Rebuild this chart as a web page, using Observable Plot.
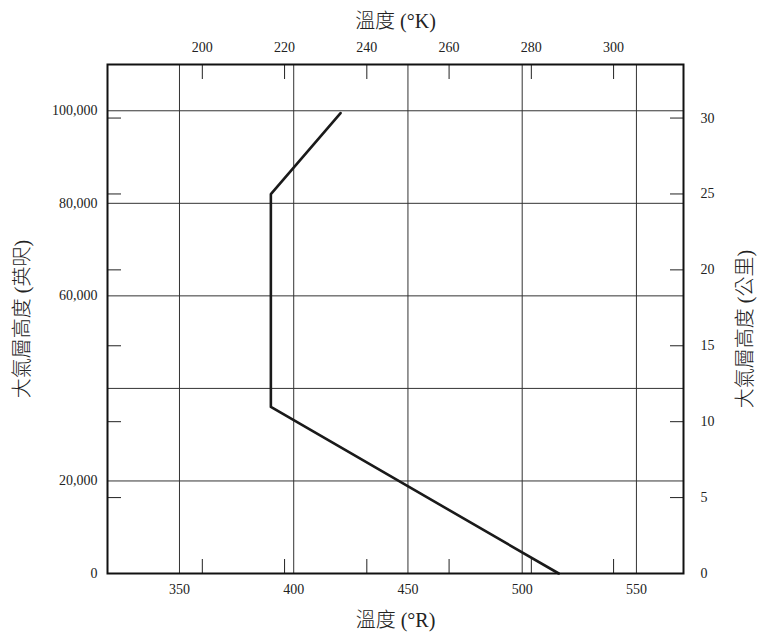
<!DOCTYPE html>
<html>
<head>
<meta charset="utf-8">
<script src="https://cdn.jsdelivr.net/npm/d3@7"></script>
<script src="https://cdn.jsdelivr.net/npm/@observablehq/plot@0.6"></script>
<style>
  html, body { margin: 0; padding: 0; background: #fff; }
</style>
</head>
<body>
<div id="chart"></div>
<script>
// Temperature profile (°R) vs altitude (ft)
const tempR = [516, 390, 390, 420.5];
const altFt = [0, 36000, 82000, 99500];

// Axis ticks
const rTicks = [350, 400, 450, 500, 550];           // bottom, °R
const kTicks = [200, 220, 240, 260, 280, 300];      // top, °K
const ftLabelTicks = [0, 20000, 60000, 80000, 100000]; // left labels, ft
const ftGrid = [20000, 40000, 60000, 80000, 100000];   // horizontal grid, ft
const kmTicks = [0, 5, 10, 15, 20, 25, 30];          // right, km

const titleTop = "溫度 (°K)";
const titleBottom = "溫度 (°R)";
const titleLeft = "大氣層高度 (英呎)";
const titleRight = "大氣層高度 (公里)";

const KtoR = k => k * 1.8;
const kmToFt = km => km * 1000 / 0.3048;

const data = tempR.map((r, i) => ({r, ft: altFt[i]}));

const serif = "'Liberation Serif', 'Noto Sans CJK TC', serif";
const ink = "#222";

const chart = Plot.plot({
  width: 762,
  height: 637,
  marginLeft: 107,
  marginRight: 79,
  marginTop: 64,
  marginBottom: 64,
  style: {fontFamily: serif, fontSize: "14px", color: ink, background: "#fff"},
  x: {domain: [318.5, 570.6]},
  y: {domain: [0, 110000]},
  marks: [
    Plot.ruleX(rTicks, {stroke: "#333", strokeWidth: 1}),
    Plot.ruleY(ftGrid, {stroke: "#333", strokeWidth: 1}),
    // bottom °R labels
    Plot.axisX({anchor: "bottom", ticks: rTicks, tickSize: 0, tickPadding: 11, label: null, fill: ink}),
    // top °K ticks (inward) + labels
    Plot.axisX({anchor: "top", ticks: kTicks.map(KtoR), tickFormat: d => Math.round(d / 1.8), tickSize: -14, tickPadding: 27, label: null, stroke: ink, fill: ink}),
    // bottom °K inward ticks
    Plot.axisX({anchor: "bottom", ticks: kTicks.map(KtoR), tickFormat: () => "", tickSize: -14, label: null, stroke: ink}),
    // left ft labels
    Plot.axisY({anchor: "left", ticks: ftLabelTicks, tickFormat: d3.format(","), tickSize: 0, tickPadding: 10, label: null, fill: ink}),
    // left km inward ticks
    Plot.axisY({anchor: "left", ticks: kmTicks.map(kmToFt), tickFormat: () => "", tickSize: -14, label: null, stroke: ink}),
    // right km ticks + labels
    Plot.axisY({anchor: "right", ticks: kmTicks.map(kmToFt), tickFormat: d => Math.round(d * 0.3048 / 1000), tickSize: -14, tickPadding: 31, label: null, stroke: ink, fill: ink}),
    Plot.line(data, {x: "r", y: "ft", stroke: "#1a1a1a", strokeWidth: 2.6}),
    Plot.frame({stroke: "#111", strokeWidth: 2}),
    // titles
    Plot.text([titleTop], {frameAnchor: "top", dy: -51, textAnchor: "middle", fontSize: 20, fontWeight: 300, fill: ink, fontFamily: serif}),
    Plot.text([titleBottom], {frameAnchor: "bottom", dy: 53, textAnchor: "middle", fontSize: 20, fontWeight: 300, fill: ink, fontFamily: serif}),
    Plot.text([titleLeft], {frameAnchor: "left", dx: -85, textAnchor: "middle", rotate: -90, fontSize: 20, fontWeight: 300, fill: ink, fontFamily: serif}),
    Plot.text([titleRight], {frameAnchor: "right", dx: 62, dy: 10, textAnchor: "middle", rotate: -90, fontSize: 20, fontWeight: 300, fill: ink, fontFamily: serif})
  ]
});
document.getElementById("chart").appendChild(chart);
</script>
</body>
</html>
